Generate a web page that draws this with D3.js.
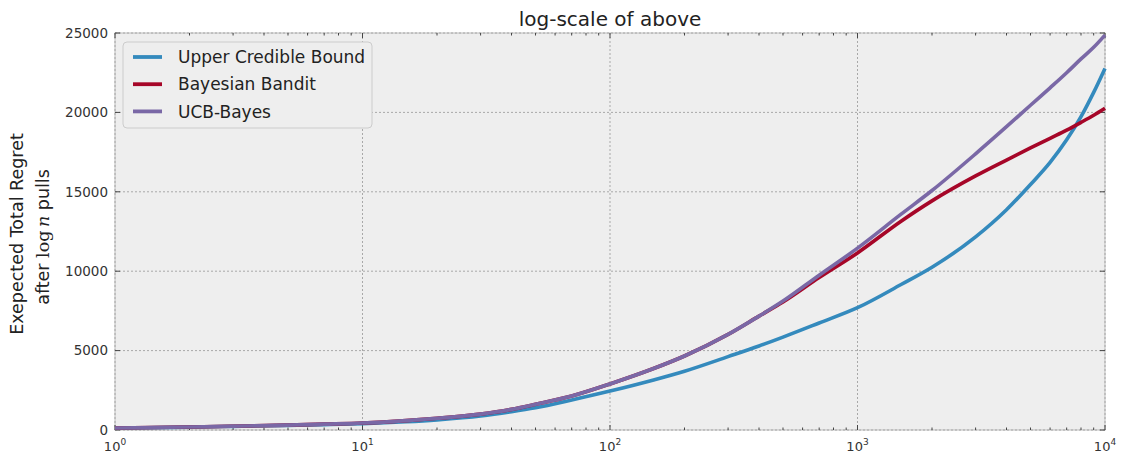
<!DOCTYPE html>
<html lang="en">
  <head>
    <meta charset="UTF-8" />
    <title>log-scale of above</title>
    <script src="https://d3js.org/d3.v7.min.js"></script>
    <style>
      body { margin: 0; background: #fff; }
      svg { font-family: 'DejaVu Sans', sans-serif; }
    </style>
  </head>
  <body>
    <svg width="1121" height="457"></svg>

    <script>
      // Data
      const pulls = [1, 2, 3, 5, 7, 10, 15, 20, 30, 40, 50, 70, 100, 150, 200, 300, 400, 500, 700,
        1000, 1500, 2000, 3000, 4000, 5000, 6000, 7000, 8000, 9000, 10000];
      const ucb = [110, 180, 230, 290, 340, 400, 520, 640, 880, 1150, 1400, 1890, 2450, 3150, 3700, 4620,
        5290, 5850, 6740, 7700, 9160, 10250, 12160, 13870, 15460, 16850, 18270, 19730, 21260, 22770];
      const bayes = [130, 190, 240, 310, 370, 440, 590, 735, 1000, 1300, 1620, 2140, 2900, 3870, 4660, 6020,
        7170, 8060, 9600, 11150, 13150, 14430, 16000, 17000, 17760, 18370, 18880, 19370, 19820, 20260];
      const ucbBayes = [130, 190, 240, 310, 370, 440, 590, 735, 1000, 1300, 1620, 2140, 2900, 3870, 4660, 6020,
        7170, 8120, 9750, 11450, 13590, 15080, 17390, 19100, 20450, 21550, 22500, 23370, 24100, 24870];

      const seriesNames = ['Upper Credible Bound', 'Bayesian Bandit', 'UCB-Bayes'];
      const seriesColors = ['#348ABD', '#A60628', '#7A68A6'];
      const yTicks = [0, 5000, 10000, 15000, 20000, 25000];
      const xTicks = [1, 10, 100, 1000, 10000];

      const series = [ucb, bayes, ucbBayes].map((vals, i) => ({
        name: seriesNames[i],
        color: seriesColors[i],
        points: pulls.map((n, j) => ({ n: n, v: vals[j] })),
      }));

      const svg = d3.select('svg');
      const margin = { left: 115, right: 16, top: 33, bottom: 27 };
      const width = 1121 - margin.left - margin.right;
      const height = 457 - margin.top - margin.bottom;

      const x = d3.scaleLog().domain([1, 10000]).range([0, width]);
      const y = d3.scaleLinear().domain([0, 25000]).range([height, 0]);

      const g = svg.append('g').attr('transform', `translate(${margin.left},${margin.top})`);

      // Background
      g.append('rect')
        .attr('width', width)
        .attr('height', height)
        .attr('fill', '#eeeeee')
        .attr('stroke', '#bcbcbc')
        .attr('stroke-width', 1);

      // Grid
      g.selectAll('.vgrid')
        .data(xTicks)
        .enter()
        .append('line')
        .attr('x1', (d) => x(d))
        .attr('x2', (d) => x(d))
        .attr('y1', 0)
        .attr('y2', height)
        .attr('stroke', '#a8a8a8')
        .attr('stroke-dasharray', '2,2');

      g.selectAll('.hgrid')
        .data(yTicks)
        .enter()
        .append('line')
        .attr('x1', 0)
        .attr('x2', width)
        .attr('y1', (d) => y(d))
        .attr('y2', (d) => y(d))
        .attr('stroke', '#a8a8a8')
        .attr('stroke-dasharray', '2,2');

      // Minor x ticks (top and bottom, inward)
      const minor = [];
      for (let e = 0; e < 4; e++) {
        for (let k = 2; k < 10; k++) minor.push(k * Math.pow(10, e));
      }
      const tickColor = '#444';
      [[height, -1], [0, 1]].forEach(([y0, dir]) => {
        g.selectAll(null)
          .data(minor)
          .enter()
          .append('line')
          .attr('x1', (d) => x(d))
          .attr('x2', (d) => x(d))
          .attr('y1', y0)
          .attr('y2', y0 + dir * 2.5)
          .attr('stroke', tickColor);
        g.selectAll(null)
          .data(xTicks)
          .enter()
          .append('line')
          .attr('x1', (d) => x(d))
          .attr('x2', (d) => x(d))
          .attr('y1', y0)
          .attr('y2', y0 + dir * 5)
          .attr('stroke', tickColor);
      });
      [[0, 1], [width, -1]].forEach(([x0, dir]) => {
        g.selectAll(null)
          .data(yTicks)
          .enter()
          .append('line')
          .attr('x1', x0)
          .attr('x2', x0 + dir * 5)
          .attr('y1', (d) => y(d))
          .attr('y2', (d) => y(d))
          .attr('stroke', tickColor);
      });

      // Lines
      const line = d3
        .line()
        .x((d) => x(d.n))
        .y((d) => y(d.v))
        .curve(d3.curveMonotoneX);

      g.selectAll('.series')
        .data(series)
        .enter()
        .append('path')
        .attr('fill', 'none')
        .attr('stroke', (d) => d.color)
        .attr('stroke-width', 3.6)
        .attr('stroke-linejoin', 'round')
        .attr('d', (d) => line(d.points));

      // Y tick labels
      g.selectAll('.ylab')
        .data(yTicks)
        .enter()
        .append('text')
        .attr('x', -7)
        .attr('y', (d) => y(d))
        .attr('dy', '0.36em')
        .attr('text-anchor', 'end')
        .attr('font-size', 13.5)
        .attr('fill', '#333')
        .text((d) => d);

      // X tick labels as 10^k
      const xl = g.selectAll('.xlab')
        .data(xTicks)
        .enter()
        .append('text')
        .attr('x', (d) => x(d))
        .attr('y', height + 21)
        .attr('text-anchor', 'middle')
        .attr('font-size', 13)
        .attr('fill', '#333');
      xl.append('tspan').text('10');
      xl.append('tspan')
        .attr('dy', -6)
        .attr('font-size', 9)
        .text((d) => Math.round(Math.log10(d)));

      // Title
      svg.append('text')
        .attr('x', margin.left + width / 2)
        .attr('y', 26)
        .attr('text-anchor', 'middle')
        .attr('font-size', 20)
        .attr('fill', '#222')
        .text('log-scale of above');

      // Y label
      const yl = svg.append('g').attr('transform', 'translate(0,234) rotate(-90)');
      yl.append('text')
        .attr('x', 0)
        .attr('y', 23)
        .attr('text-anchor', 'middle')
        .attr('font-size', 17.5)
        .attr('fill', '#222')
        .text('Exepected Total Regret');
      const l2 = yl.append('text')
        .attr('x', -3)
        .attr('y', 49)
        .attr('text-anchor', 'middle')
        .attr('font-size', 17.5)
        .attr('fill', '#222');
      l2.append('tspan').text('after ');
      l2.append('tspan').attr('font-family', 'DejaVu Serif').text('log\u2009');
      l2.append('tspan').attr('font-family', 'DejaVu Serif').attr('font-style', 'italic').text('n');
      l2.append('tspan').text(' pulls');

      // Legend
      const lg = g.append('g').attr('transform', 'translate(8,9)');
      lg.append('rect')
        .attr('width', 249)
        .attr('height', 86)
        .attr('rx', 4)
        .attr('fill', '#eeeeee')
        .attr('stroke', '#cccccc');
      const items = lg.selectAll('.item')
        .data(series)
        .enter()
        .append('g')
        .attr('transform', (d, i) => `translate(0,${15 + i * 27.2})`);
      items.append('line')
        .attr('x1', 10)
        .attr('x2', 39)
        .attr('stroke', (d) => d.color)
        .attr('stroke-width', 3.8);
      items.append('text')
        .attr('x', 55)
        .attr('dy', '0.36em')
        .attr('font-size', 17)
        .attr('fill', '#222')
        .text((d) => d.name);
    </script>
  </body>
</html>
